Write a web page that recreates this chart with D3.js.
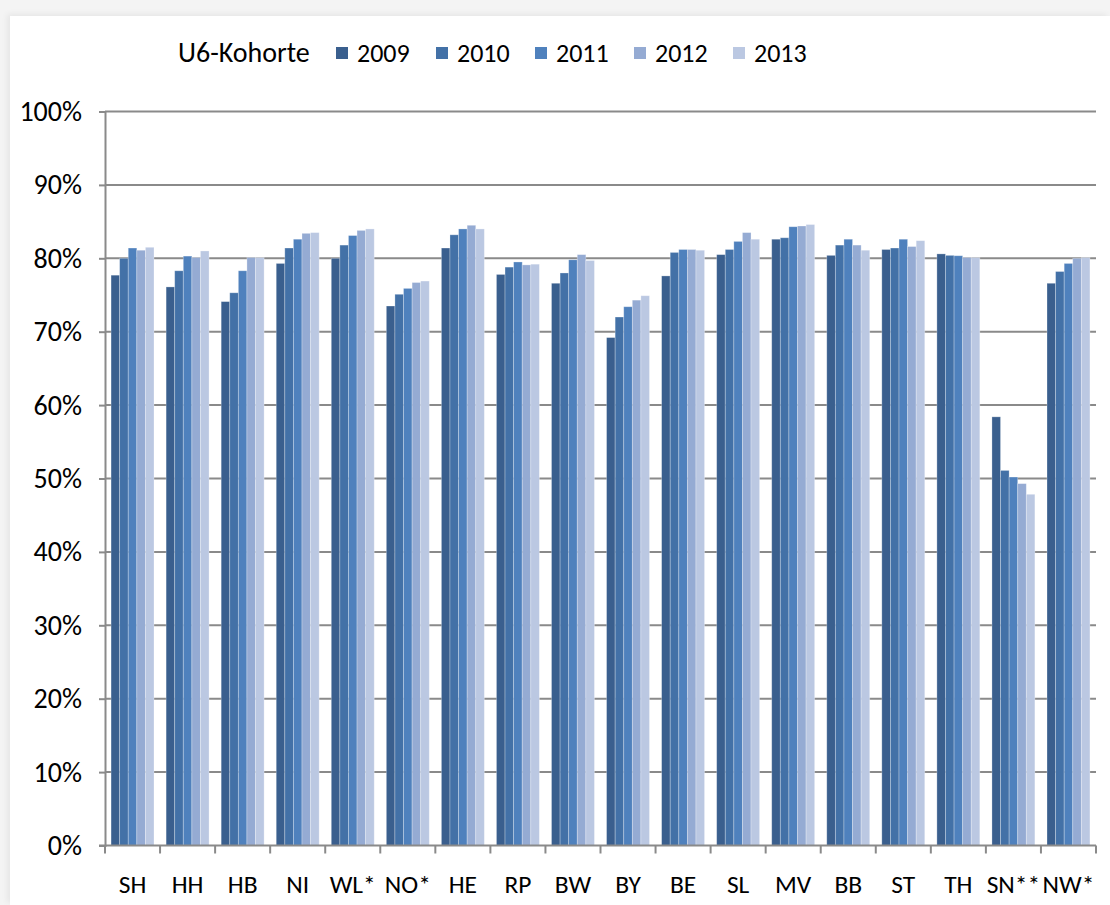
<!DOCTYPE html>
<html>
<head>
<meta charset="utf-8">
<script src="https://cdn.jsdelivr.net/npm/d3@7"></script>
<style>
  html, body { margin: 0; padding: 0; background: #f4f4f4; }
  #chart { position: absolute; left: 10px; top: 16px; width: 1100px; height: 889px; background: #fff;
           box-shadow: -3px -2px 6px rgba(0,0,0,0.06); }
  svg { display: block; }
  text { font-family: Carlito, Calibri, "Liberation Sans", Arial, sans-serif; fill: #000; }
</style>
</head>
<body>
<div id="chart"></div>
<script>
// Data
const regions = ["SH", "HH", "HB", "NI", "WL*", "NO*", "HE", "RP", "BW", "BY", "BE", "SL", "MV", "BB", "ST", "TH", "SN**", "NW*"];
const years = ["2009", "2010", "2011", "2012", "2013"];
const v2009 = [77.7, 76.1, 74.1, 79.3, 80.0, 73.5, 81.4, 77.8, 76.6, 69.2, 77.6, 80.5, 82.6, 80.4, 81.2, 80.6, 58.4, 76.6];
const v2010 = [80.0, 78.3, 75.3, 81.4, 81.8, 75.1, 83.2, 78.8, 78.0, 72.0, 80.8, 81.2, 82.8, 81.8, 81.4, 80.4, 51.1, 78.2];
const v2011 = [81.4, 80.3, 78.3, 82.6, 83.1, 75.9, 84.0, 79.5, 79.8, 73.4, 81.2, 82.3, 84.3, 82.6, 82.6, 80.35, 50.2, 79.3];
const v2012 = [81.1, 80.1, 80.1, 83.4, 83.8, 76.7, 84.5, 79.1, 80.5, 74.3, 81.2, 83.5, 84.4, 81.8, 81.6, 80.1, 49.3, 80.0];
const v2013 = [81.5, 81.0, 80.1, 83.5, 84.0, 76.9, 84.0, 79.2, 79.7, 74.9, 81.1, 82.6, 84.6, 81.1, 82.4, 80.1, 47.85, 80.1];
const seriesValues = [v2009, v2010, v2011, v2012, v2013];
const colors = ["#3a5f8e", "#4371a7", "#4f81bd", "#95abd3", "#bbc8e2"];
const yTicks = [0, 10, 20, 30, 40, 50, 60, 70, 80, 90, 100];

// Layout (page coordinates, chart div starts at 10,16)
const W = 1100, H = 889;
const off = {x: 10, y: 16};
const plot = {left: 105 - off.x, right: 1096 - off.x, top: 111.5 - off.y, bottom: 845.5 - off.y};

const svg = d3.select("#chart").append("svg")
  .attr("width", W)
  .attr("height", H);

const x0 = d3.scaleBand()
  .domain(regions)
  .range([plot.left, plot.right])
  .paddingInner(0.22)
  .paddingOuter(0.11);

const x1 = d3.scaleBand()
  .domain(years)
  .range([0, x0.bandwidth()]);

const y = d3.scaleLinear()
  .domain([0, 100])
  .range([plot.bottom, plot.top]);

// Gridlines
svg.append("g")
  .selectAll("line")
  .data(yTicks.filter(d => d > 0))
  .join("line")
    .attr("x1", plot.left)
    .attr("x2", plot.right)
    .attr("y1", d => y(d))
    .attr("y2", d => y(d))
    .attr("stroke", "#8a8a8a")
    .attr("stroke-width", 2);

// Bars
const groups = svg.append("g")
  .selectAll("g")
  .data(regions)
  .join("g")
    .attr("transform", d => `translate(${x0(d)},0)`);

groups.selectAll("rect")
  .data((r, i) => years.map((yr, j) => ({year: yr, value: seriesValues[j][i], idx: j})))
  .join("rect")
    .attr("x", d => x1(d.year))
    .attr("width", x1.bandwidth())
    .attr("y", d => y(d.value))
    .attr("height", d => y(0) - y(d.value))
    .attr("fill", d => colors[d.idx])
    .attr("stroke", "rgba(255,255,255,0.35)")
    .attr("stroke-width", 0.8);

// Y axis
const yAxis = svg.append("g")
  .attr("transform", `translate(${plot.left},0)`)
  .call(d3.axisLeft(y).tickValues(yTicks).tickFormat(d => d + "%").tickSize(6).tickPadding(17));
yAxis.select(".domain").attr("stroke", "#8a8a8a").attr("stroke-width", 2);
yAxis.selectAll(".tick line").attr("stroke", "#8a8a8a").attr("stroke-width", 2);
yAxis.selectAll(".tick text")
  .attr("font-size", 28)
  .attr("font-family", "Carlito, Calibri, 'Liberation Sans', Arial, sans-serif")
  .attr("fill", "#000");

// X axis: ticks on category boundaries
svg.append("line")
  .attr("x1", plot.left - 6)
  .attr("x2", plot.right)
  .attr("y1", y(0))
  .attr("y2", y(0))
  .attr("stroke", "#8a8a8a")
  .attr("stroke-width", 2);

const step = x0.step();
svg.append("g")
  .selectAll("line")
  .data(d3.range(regions.length + 1))
  .join("line")
    .attr("x1", i => plot.left + i * step)
    .attr("x2", i => plot.left + i * step)
    .attr("y1", y(0))
    .attr("y2", y(0) + 8)
    .attr("stroke", "#8a8a8a")
    .attr("stroke-width", 2);

svg.append("g")
  .selectAll("text")
  .data(regions)
  .join("text")
    .attr("x", d => x0(d) + x0.bandwidth() / 2)
    .attr("y", 893 - off.y)
    .attr("text-anchor", "middle")
    .attr("font-size", 25.5)
    .text(d => d);

// Legend
const legend = svg.append("g");
legend.append("text")
  .attr("x", 178 - off.x)
  .attr("y", 62 - off.y)
  .attr("font-size", 28)
  .text("U6-Kohorte");

const legendX = [336, 436, 535, 634, 733];
years.forEach((yr, j) => {
  legend.append("rect")
    .attr("x", legendX[j] - off.x)
    .attr("y", 47 - off.y)
    .attr("width", 12)
    .attr("height", 12)
    .attr("fill", colors[j]);
  legend.append("text")
    .attr("x", legendX[j] + 21 - off.x)
    .attr("y", 62 - off.y)
    .attr("font-size", 26)
    .text(yr);
});
</script>
</body>
</html>
